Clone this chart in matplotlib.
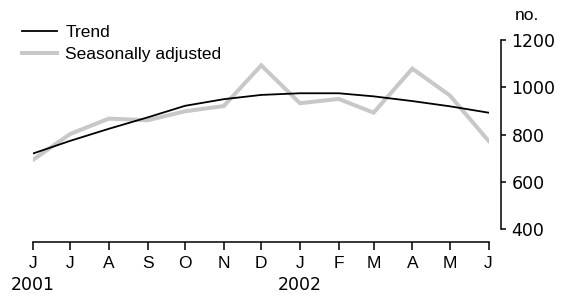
import matplotlib
matplotlib.use("Agg")
import matplotlib.pyplot as plt
import matplotlib.transforms as mtransforms
import pandas as pd

# data
months = pd.date_range("2001-06-01", periods=13, freq="MS")
month_letters = ["J", "J", "A", "S", "O", "N", "D", "J", "F", "M", "A", "M", "J"]
trend = [720, 774, 825, 873, 922, 950, 968, 975, 975, 962, 942, 920, 893]
seas_adj = [693, 803, 868, 861, 899, 921, 1093, 933, 951, 893, 1079, 966, 774]
year_labels = {"2001": months[0], "2002": months[7]}
y_ticks = [400, 600, 800, 1000, 1200]

plt.rcParams['font.family'] = ['Liberation Sans', 'DejaVu Sans']
FS = 12.5

fig = plt.figure(figsize=(5.62, 2.96), dpi=100)
ax = fig.add_axes([32.7 / 562, 54.3 / 296, (488.5 - 32.7) / 562, (241.7 - 40) / 296])

ax.plot(months, trend, color="black", lw=1.3, label="Trend", zorder=3)
ax.plot(months, seas_adj, color="#c8c8c8", lw=2.9, label="Seasonally adjusted",
        solid_joinstyle="miter", zorder=2)

ax.set_xlim(months[0], months[-1])
ax.set_ylim(348, 1200)

# spines
for s in ["top", "left"]:
    ax.spines[s].set_visible(False)
ax.spines["right"].set_position(("outward", 9))
ax.spines["right"].set_bounds(400, 1200)
ax.spines["bottom"].set_linewidth(1.1)
ax.spines["right"].set_linewidth(1.1)

ax.yaxis.tick_right()
ax.set_yticks(y_ticks)
ax.set_yticklabels([str(v) for v in y_ticks], family="DejaVu Sans", fontsize=FS)
ax.tick_params(axis="y", direction="out", length=3.5, width=1.1, pad=4, colors="black")

ax.set_xticks(months)
ax.set_xticklabels(month_letters, fontsize=FS)
ax.tick_params(axis="x", direction="out", length=6, width=1.1, pad=4)

# year labels under the ticks
trans = mtransforms.blended_transform_factory(ax.transData, fig.transFigure)
for txt, d in year_labels.items():
    ax.text(d, 1 - 285 / 296, txt, transform=trans, ha="center", va="center",
            fontsize=FS, family="DejaVu Sans")

# unit label
fig.text(515 / 562, 1 - 15 / 296, "no.", ha="left", va="center", fontsize=FS)

ax.legend(loc="upper left", bbox_to_anchor=(22 / 562, 1 - 25 / 296),
          bbox_transform=fig.transFigure, frameon=False, fontsize=FS,
          handlelength=2.0, handletextpad=0.5, labelspacing=0.4,
          borderpad=0, borderaxespad=0)

fig.savefig("out.png", dpi=100)
